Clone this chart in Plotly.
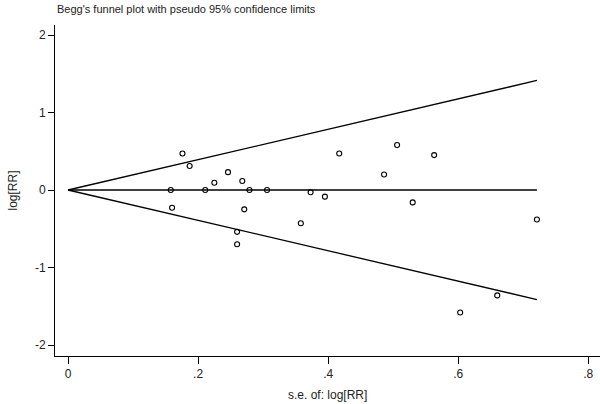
import plotly.graph_objects as go

# Study data: standard error of log[RR] and log[RR]
se = [0.158, 0.160, 0.176, 0.187, 0.211, 0.225, 0.246, 0.260, 0.260, 0.268,
      0.271, 0.279, 0.306, 0.358, 0.373, 0.395, 0.417, 0.486, 0.506, 0.530,
      0.563, 0.603, 0.660, 0.721]
logrr = [0.00, -0.23, 0.47, 0.31, 0.00, 0.094, 0.23, -0.54, -0.70, 0.116,
         -0.25, 0.00, 0.00, -0.43, -0.03, -0.086, 0.47, 0.20, 0.58, -0.16,
         0.45, -1.58, -1.36, -0.38]

pooled = 0.0
se_line = [0.0, max(se)]
upper = [pooled + 1.96 * s for s in se_line]
lower = [pooled - 1.96 * s for s in se_line]
center = [pooled for s in se_line]

x_ticks = [0, 0.2, 0.4, 0.6, 0.8]
x_tick_labels = ["0", ".2", ".4", ".6", ".8"]
y_ticks = [-2, -1, 0, 1, 2]
y_tick_labels = ["-2", "-1", "0", "1", "2"]

line_style = dict(color="black", width=1.3)

fig = go.Figure()
fig.add_trace(go.Scatter(x=se_line, y=upper, mode="lines", line=line_style, hoverinfo="skip"))
fig.add_trace(go.Scatter(x=se_line, y=lower, mode="lines", line=line_style, hoverinfo="skip"))
fig.add_trace(go.Scatter(x=se_line, y=center, mode="lines", line=line_style, hoverinfo="skip"))
fig.add_trace(go.Scatter(
    x=se, y=logrr, mode="markers",
    marker=dict(symbol="circle-open", size=5, color="black", line=dict(width=1.1, color="black")),
))

font = "Liberation Sans, Arial, sans-serif"
fig.update_layout(
    width=600, height=404,
    margin=dict(l=55, r=0, t=25, b=48),
    paper_bgcolor="white", plot_bgcolor="white",
    showlegend=False,
    font=dict(family=font, size=12, color="#222"),
    title=dict(text="Begg's funnel plot with pseudo 95% confidence limits",
               x=57 / 600, xanchor="left", xref="container",
               y=1 - 9 / 404, yanchor="middle", yref="container",
               font=dict(family=font, size=11, color="#222")),
    xaxis=dict(range=[-0.02, 0.818], tickvals=x_ticks, ticktext=x_tick_labels,
               showgrid=False, zeroline=False, showline=True, linecolor="black", linewidth=1,
               ticks="outside", ticklen=7, tickcolor="black", tickwidth=1,
               tickfont=dict(family=font, size=12, color="#222")),
    yaxis=dict(range=[-2.142, 2.129], tickvals=y_ticks, ticktext=y_tick_labels,
               showgrid=False, zeroline=False, showline=True, linecolor="black", linewidth=1,
               ticks="outside", ticklen=6, tickcolor="black", tickwidth=1,
               tickfont=dict(family=font, size=12, color="#222")),
    annotations=[
        dict(text="s.e. of: log[RR]", xref="paper", yref="paper",
             x=(327 - 55) / 545, y=(356 - 395) / 331, xanchor="center", yanchor="middle",
             showarrow=False, font=dict(family=font, size=12, color="#222")),
        dict(text="log[RR]", xref="paper", yref="paper", textangle=-90,
             x=(12 - 55) / 545, y=0.5, xanchor="center", yanchor="middle",
             showarrow=False, font=dict(family=font, size=12, color="#222")),
    ],
)

fig.write_html("out.html", config={"displayModeBar": False},
               post_script="document.body.style.margin='0';document.body.style.overflow='hidden';")
